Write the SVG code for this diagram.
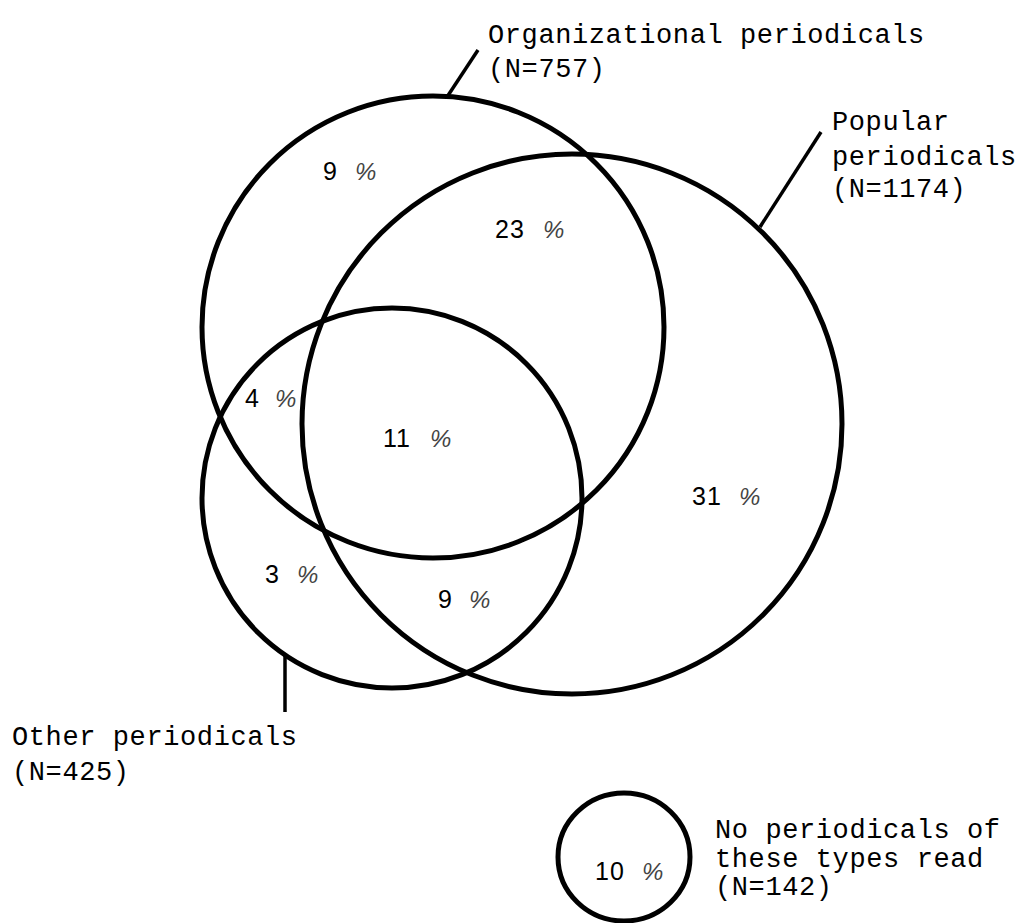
<svg xmlns="http://www.w3.org/2000/svg" width="1024" height="923" viewBox="0 0 1024 923">
<style>
.c{fill:none;stroke:#000;stroke-width:5}
.ld{stroke:#000;stroke-width:3.5;fill:none}
.t{font-family:"Liberation Mono","DejaVu Sans Mono",monospace;font-size:27px;fill:#000;letter-spacing:0.6px}
.n{font-family:"Liberation Sans","DejaVu Sans",sans-serif;font-size:25px;fill:#000;letter-spacing:1px}
.p{font-family:"Liberation Sans","DejaVu Sans",sans-serif;font-size:24px;fill:#444;font-style:italic}
</style>
<rect width="1024" height="923" fill="#fff"/>
<g id="connectors">
<line class="ld" x1="447" y1="97" x2="478" y2="50"/>
<line class="ld" x1="760" y1="227" x2="821" y2="132"/>
<line class="ld" x1="285" y1="656" x2="285" y2="712"/>
</g>
<g id="organizational">
<circle class="c" cx="433" cy="327" r="231"/>
<text class="t" x="488" y="43">Organizational periodicals</text>
<text class="t" x="488" y="77">(N=757)</text>
</g>
<g id="popular">
<circle class="c" cx="572" cy="424" r="270"/>
<text class="t" x="832" y="130">Popular</text>
<text class="t" x="832" y="165">periodicals</text>
<text class="t" x="832" y="197">(N=1174)</text>
</g>
<g id="other">
<circle class="c" cx="392" cy="498" r="190"/>
<text class="t" x="12" y="745">Other periodicals</text>
<text class="t" x="12" y="780">(N=425)</text>
</g>
<g id="none">
<ellipse class="c" cx="624" cy="857" rx="66" ry="64"/>
<text class="t" x="715" y="838">No periodicals of</text>
<text class="t" x="715" y="867">these types read</text>
<text class="t" x="715" y="895">(N=142)</text>
</g>
<g id="labels">
<text class="n" x="323" y="180">9</text><text class="p" x="355" y="180">%</text>
<text class="n" x="495" y="238">23</text><text class="p" x="543" y="238">%</text>
<text class="n" x="245" y="407">4</text><text class="p" x="275" y="407">%</text>
<text class="n" x="383" y="447">11</text><text class="p" x="430" y="447">%</text>
<text class="n" x="265" y="583">3</text><text class="p" x="297" y="583">%</text>
<text class="n" x="438" y="608">9</text><text class="p" x="469" y="608">%</text>
<text class="n" x="692" y="505">31</text><text class="p" x="739" y="505">%</text>
<text class="n" x="595" y="880">10</text><text class="p" x="642" y="880">%</text>
</g>
</svg>
